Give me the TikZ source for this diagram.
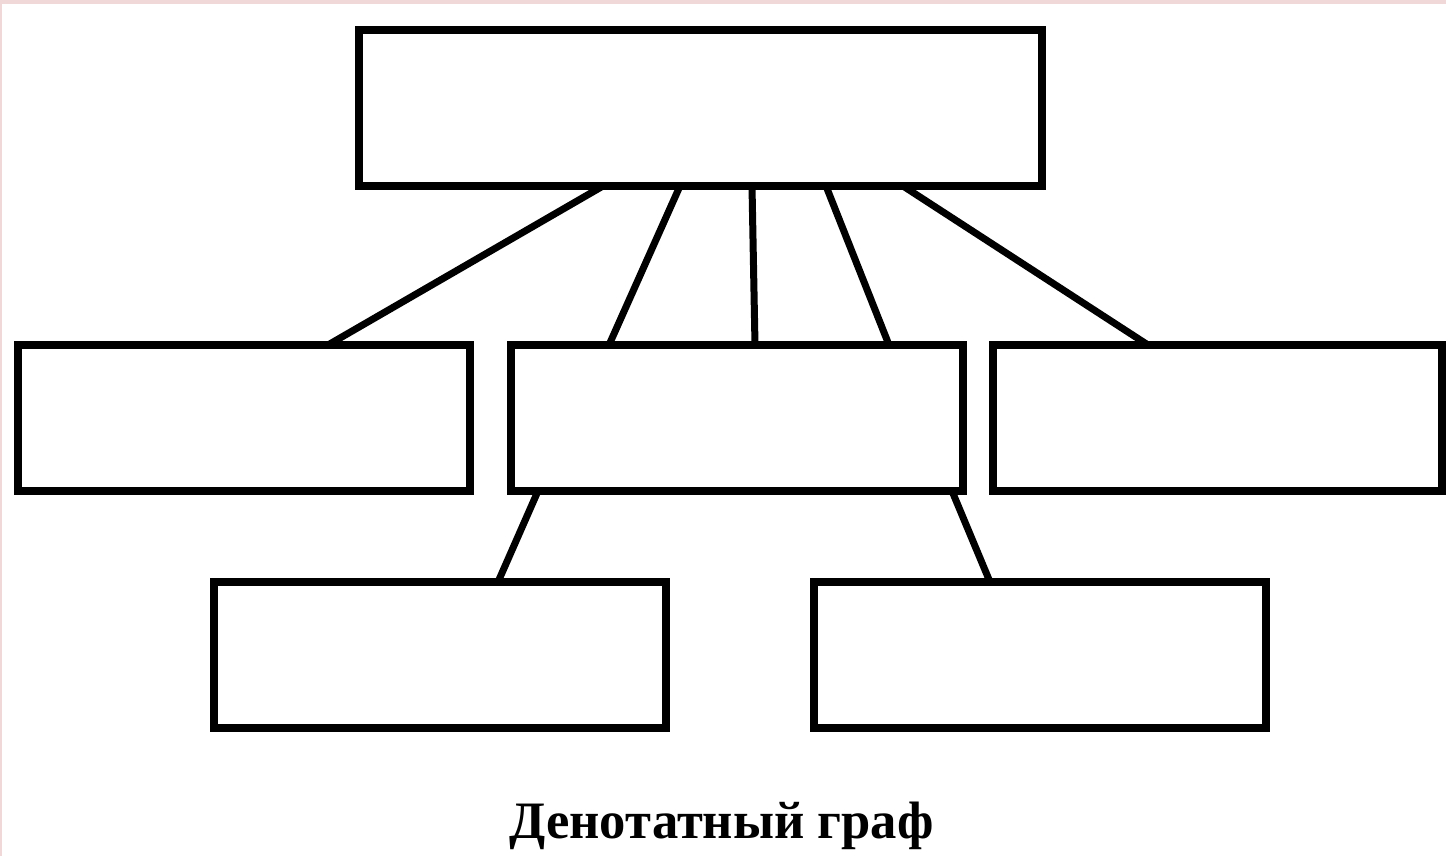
\documentclass[tikz,border=0pt]{standalone}
\usepackage{fontspec}
\setmainfont{Liberation Serif}
\definecolor{pinkband}{HTML}{F0D8D8}
\begin{document}
\begin{tikzpicture}[x=1pt,y=-1pt,
  box/.style={draw=black,line width=8pt,line join=miter},
  link/.style={draw=black,line width=7pt}]
\fill[pinkband] (0,0) rectangle (1446,856);
\fill[white] (1.5,4.5) rectangle (1446,856);
\useasboundingbox (0,0) rectangle (1446,856);
% boxes
\path[box] (359,30) rectangle (1042,186);
\path[box] (18,345) rectangle (470,491);
\path[box] (511,345) rectangle (963,491);
\path[box] (993,345) rectangle (1442,491);
\path[box] (214,582) rectangle (666,728);
\path[box] (814,582) rectangle (1266,728);
\coordinate (t1) at (603,186);
\coordinate (t2) at (680,186);
\coordinate (t3) at (752,186);
\coordinate (t4) at (826,186);
\coordinate (t5) at (903,186);
\coordinate (m1) at (328,345);
\coordinate (m2) at (609,345);
\coordinate (m3) at (755,345);
\coordinate (m4) at (889,345);
\coordinate (m5) at (1148,345);
\coordinate (c1) at (538,491);
\coordinate (c2) at (952,491);
\coordinate (b1) at (498,582);
\coordinate (b2) at (990,582);
\draw[link] (t1) -- (m1);
\draw[link] (t2) -- (m2);
\draw[link] (t3) -- (m3);
\draw[link] (t4) -- (m4);
\draw[link] (t5) -- (m5);
\draw[link] (c1) -- (b1);
\draw[link] (c2) -- (b2);
\node[font=\fontsize{52.6}{52.6}\selectfont\bfseries,inner sep=0pt,anchor=base] (cap) at (721.5,838) {Денотатный граф};
\end{tikzpicture}
\end{document}
